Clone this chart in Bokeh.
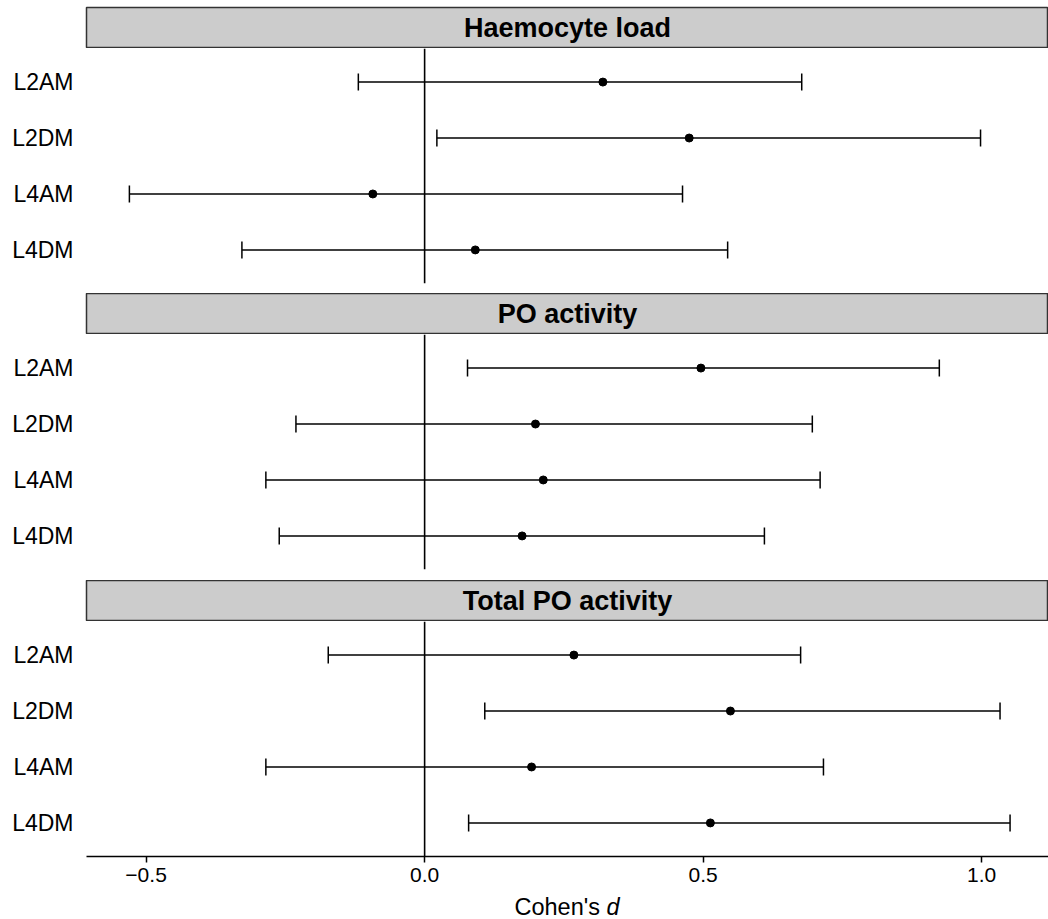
from bokeh.plotting import figure
from bokeh.models import (ColumnDataSource, Range1d, FactorRange, Whisker, TeeHead,
                          Span, Label, FixedTicker)
from bokeh.layouts import column
from bokeh.embed import file_html
from bokeh.resources import INLINE

# ---------------- data ----------------
groups = ["L2AM", "L2DM", "L4AM", "L4DM"]

panel_titles = ["Haemocyte load", "PO activity", "Total PO activity"]

haemo_est = [0.320, 0.475, -0.093, 0.091]
haemo_lo = [-0.119, 0.022, -0.530, -0.328]
haemo_hi = [0.677, 0.998, 0.463, 0.544]

po_est = [0.496, 0.199, 0.213, 0.175]
po_lo = [0.077, -0.231, -0.285, -0.261]
po_hi = [0.924, 0.696, 0.710, 0.610]

tpo_est = [0.268, 0.549, 0.192, 0.513]
tpo_lo = [-0.173, 0.108, -0.285, 0.079]
tpo_hi = [0.675, 1.033, 0.716, 1.051]

x_ticks = [-0.5, 0.0, 0.5, 1.0]
x_tick_labels = ["\u22120.5", "0.0", "0.5", "1.0"]
x_title = "Cohen's "
x_title_italic = "d"

# ---------------- style ----------------
FONT = "Liberation Sans"
W = 1048
LEFT = 86
X0, X1 = -0.607, 1.120
PANEL_H = 235

panels = [
    (haemo_est, haemo_lo, haemo_hi),
    (po_est, po_lo, po_hi),
    (tpo_est, tpo_lo, tpo_hi),
]


def make_strip(title, top=0):
    s = figure(width=W, height=41 + top, x_range=Range1d(0, 1), y_range=Range1d(0, 1),
               output_backend="svg", toolbar_location=None,
               min_border_left=LEFT, min_border_right=0, min_border_top=top,
               min_border_bottom=0)
    s.axis.visible = False
    s.grid.visible = False
    s.background_fill_color = "#CCCCCC"
    s.border_fill_color = "white"
    s.outline_line_color = "#333333"
    s.outline_line_width = 1.5
    s.add_layout(Label(x=0.5, y=0.5, text=title, text_align="center",
                       text_baseline="middle", text_font=FONT,
                       text_font_size="27px", text_font_style="bold",
                       text_color="black"))
    return s


def make_panel(est, lo, hi, last, gap):
    bottom = 36 if last else gap
    p = figure(width=W, height=PANEL_H + bottom, x_range=Range1d(X0, X1),
               y_range=FactorRange(factors=list(reversed(groups)),
                                   range_padding=0.1, range_padding_units="absolute"),
               output_backend="svg", toolbar_location=None,
               min_border_left=LEFT, min_border_right=0, min_border_top=0,
               min_border_bottom=bottom)
    p.grid.visible = False
    p.outline_line_color = None
    p.background_fill_color = "white"
    p.border_fill_color = "white"

    p.yaxis.axis_line_color = None
    p.yaxis.major_tick_line_color = None
    p.yaxis.minor_tick_line_color = None
    p.yaxis.major_tick_out = 0
    p.yaxis.major_tick_in = 0
    p.yaxis.major_label_standoff = 13
    p.yaxis.major_label_text_font = FONT
    p.yaxis.major_label_text_font_size = "23px"
    p.yaxis.major_label_text_color = "black"

    if last:
        ax = p.xaxis[0]
        ax.ticker = FixedTicker(ticks=x_ticks)
        ax.major_label_overrides = {t: l for t, l in zip(x_ticks, x_tick_labels)}
        ax.axis_line_color = "black"
        ax.axis_line_width = 1.5
        ax.major_tick_line_color = "black"
        ax.major_tick_line_width = 1.5
        ax.major_tick_out = 6
        ax.major_tick_in = 0
        ax.minor_tick_line_color = None
        ax.major_label_standoff = 5
        ax.major_label_text_font = FONT
        ax.major_label_text_font_size = "21px"
        ax.major_label_text_color = "black"
    else:
        p.xaxis.visible = False

    p.add_layout(Span(location=0, dimension="height", line_color="black",
                      line_width=1.6))

    src = ColumnDataSource(dict(group=groups, est=est, lo=lo, hi=hi))
    p.add_layout(Whisker(source=src, base="group", lower="lo", upper="hi",
                         dimension="width", line_color="black", line_width=1.5,
                         lower_head=TeeHead(size=17, line_color="black", line_width=1.5),
                         upper_head=TeeHead(size=17, line_color="black", line_width=1.5)))
    p.scatter(x="est", y="group", source=src, size=8, color="black")
    return p


def make_xtitle():
    t = figure(width=W, height=27, x_range=Range1d(X0, X1), y_range=Range1d(0, 1),
               output_backend="svg", toolbar_location=None,
               min_border_left=LEFT, min_border_right=0, min_border_top=0,
               min_border_bottom=0)
    t.axis.visible = False
    t.grid.visible = False
    t.outline_line_color = None
    xm = (X0 + X1) / 2
    t.add_layout(Label(x=xm, y=0.45, x_offset=39, text=x_title,
                       text_align="right", text_baseline="middle",
                       text_font=FONT, text_font_size="23.5px", text_color="black"))
    t.add_layout(Label(x=xm, y=0.45, x_offset=39, text=x_title_italic,
                       text_align="left", text_baseline="middle",
                       text_font=FONT, text_font_size="23.5px",
                       text_font_style="italic", text_color="black"))
    return t


items = []
gaps = [10, 11, 0]
for i, (title, (est, lo, hi)) in enumerate(zip(panel_titles, panels)):
    items.append(make_strip(title, top=(7 if i == 0 else 0)))
    items.append(make_panel(est, lo, hi, last=(i == 2), gap=gaps[i]))
items.append(make_xtitle())

layout = column(items, spacing=0)

open("out.html", "w").write(file_html(layout, INLINE))
